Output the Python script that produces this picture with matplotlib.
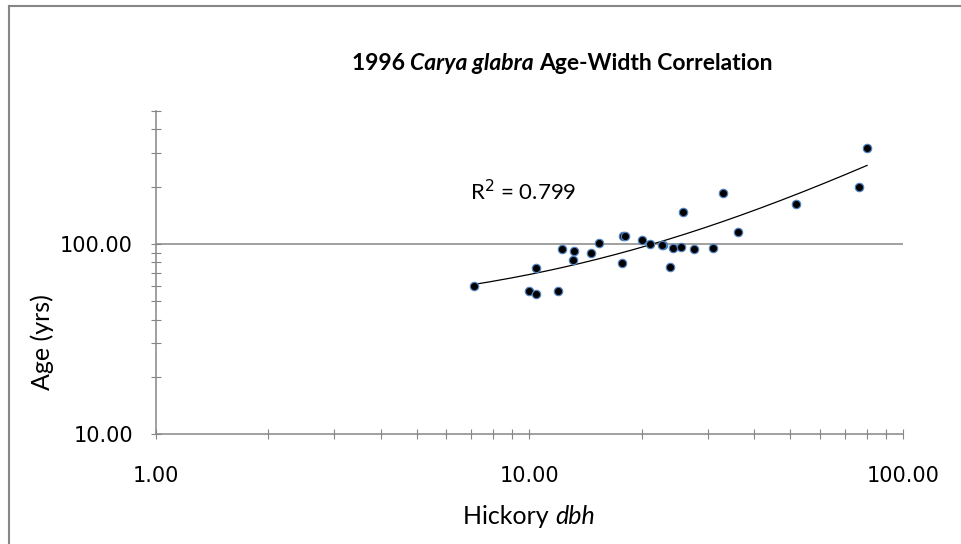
import matplotlib
matplotlib.use("Agg")
import matplotlib.pyplot as plt
import matplotlib.ticker as mticker
from matplotlib.lines import Line2D
import numpy as np

# diametro (dbh) e idade
dbh = [7.13, 10.43, 10.0, 10.43, 11.92, 12.22, 13.2, 13.13, 14.64, 15.35,
       17.86, 18.05, 17.71, 20.04, 21.05, 22.85, 22.6, 24.2, 23.86, 25.43,
       25.85, 27.66, 30.97, 33.0, 36.27, 51.66, 76.15, 80.14]
age = [60.3, 74.5, 56.6, 54.8, 56.6, 94.1, 91.9, 82.1, 90.0, 100.9,
       110.2, 110.0, 79.4, 105.3, 100.4, 98.4, 99.0, 95.2, 75.6, 96.8,
       146.9, 94.1, 94.9, 186.2, 116.1, 161.8, 200.3, 319.0]
r2_label = "R$^2$ = 0.799"

GRAY = "#868686"

fig = plt.figure(figsize=(9.61, 5.44), dpi=100)
ax = fig.add_axes([155.5 / 961, 1 - 434 / 544, (903 - 155.5) / 961, (434 - 111) / 544])

x = np.array(dbh)
y = np.array(age)

# linha de tendencia linear (excel)
coef = np.polyfit(x, y, 1)
xs = np.linspace(x.min(), x.max(), 200)
ax.plot(xs, np.polyval(coef, xs), color="black", lw=0.9, zorder=2)

ax.plot(x, y, "o", ms=6.0, mfc="black", mec="#4f81bd", mew=0.9, zorder=3)

ax.set_xscale("log")
ax.set_yscale("log")
ax.set_xlim(1, 100)
ax.set_ylim(10, 500)

fmt = mticker.FuncFormatter(lambda v, p: "%.2f" % v)
ax.xaxis.set_major_formatter(fmt)
ax.yaxis.set_major_formatter(fmt)
ax.xaxis.set_minor_formatter(mticker.NullFormatter())
ax.yaxis.set_minor_formatter(mticker.NullFormatter())
ax.yaxis.set_major_locator(mticker.FixedLocator([10, 100]))

for s in ["top", "right"]:
    ax.spines[s].set_visible(False)
for s in ["left", "bottom"]:
    ax.spines[s].set_color(GRAY)
    ax.spines[s].set_linewidth(1.1)

ax.tick_params(which="both", direction="inout", length=6.5, width=0.8, color=GRAY)
ax.tick_params(axis="x", which="major", pad=20, labelsize=15)
ax.tick_params(axis="y", which="major", pad=13, labelsize=15)
for lab in ax.get_xticklabels() + ax.get_yticklabels():
    lab.set_fontfamily("DejaVu Sans")

ax.axhline(100, color=GRAY, lw=1.1, zorder=1)

fig.text(470 / 961, 1 - 200 / 544, r2_label, fontsize=16, family="Lato",
         va="baseline", ha="left")

# titulo com parte em italico
t1 = fig.text(352 / 961, 1 - 70 / 544, "1996 ", fontsize=16.5, family="Lato",
              weight="bold", va="baseline", ha="left")
t2 = fig.text(0, 0, "Carya glabra ", fontsize=16.5, family="Lato", weight="bold",
              style="italic", va="baseline", ha="left")
t3 = fig.text(0, 0, "Age-Width Correlation", fontsize=16.5, family="Lato",
              weight="bold", va="baseline", ha="left")

fig.canvas.draw()
r = fig.canvas.get_renderer()


def place_after(prev, cur):
    bb = prev.get_window_extent(r)
    x0 = bb.x1 / fig.bbox.width
    cur.set_position((x0, prev.get_position()[1]))


place_after(t1, t2)
fig.canvas.draw()
place_after(t2, t3)

# eixo x
xl1 = fig.text(0, 1 - 524 / 544, "Hickory ", fontsize=18, family="Lato",
               va="baseline", ha="left")
xl2 = fig.text(0, 0, "dbh", fontsize=18, family="Lato", style="italic",
               va="baseline", ha="left")
fig.canvas.draw()
w = xl1.get_window_extent(r).width + xl2.get_window_extent(r).width
xl1.set_position(((529 - w / 2) / 961, 1 - 524 / 544))
fig.canvas.draw()
place_after(xl1, xl2)

fig.text(42 / 961, 1 - 342 / 544, "Age (yrs)", fontsize=18, family="Lato",
         rotation=90, va="center", ha="center")

# moldura do grafico
fig.add_artist(Line2D([9 / 961, 9 / 961], [0, 1 - 6 / 544], color=GRAY, lw=1.5))
fig.add_artist(Line2D([9 / 961, 1], [1 - 6 / 544, 1 - 6 / 544], color=GRAY, lw=1.5))

fig.savefig("out.png", dpi=100)
